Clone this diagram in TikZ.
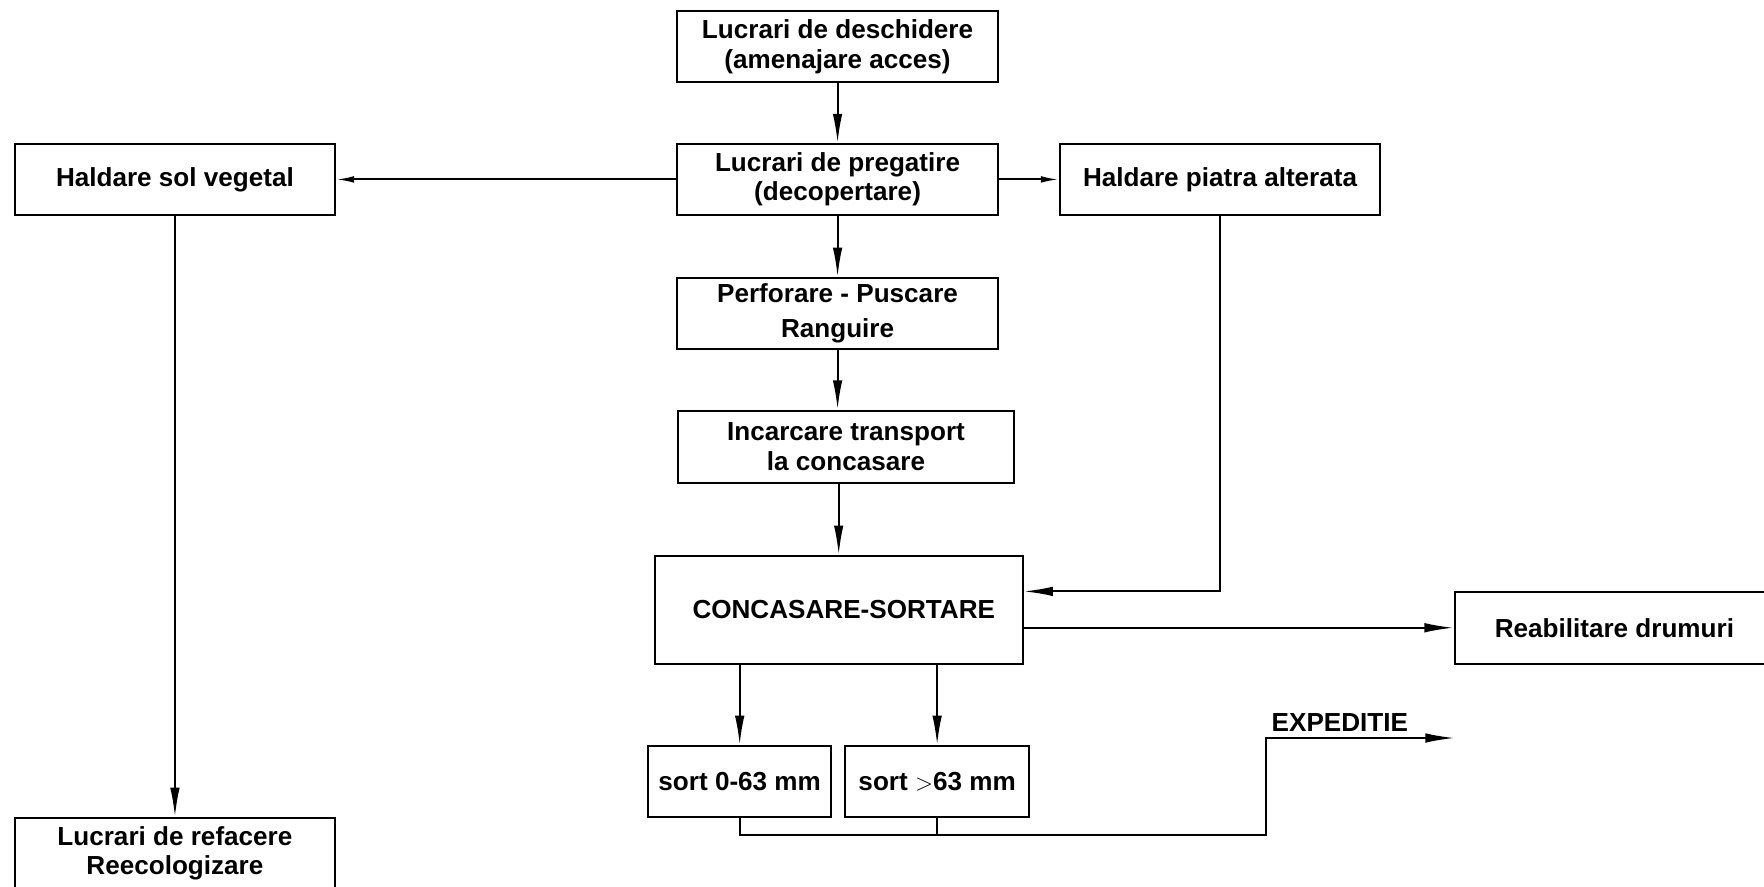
\documentclass[tikz,border=0pt]{standalone}
\usepackage{fontspec}
\setmainfont{Liberation Sans}
\usetikzlibrary{arrows.meta, positioning, calc}

\begin{document}
\begin{tikzpicture}[
    box/.style={draw, line width=1pt, minimum width=5.70cm, minimum height=1.26cm,
      inner sep=0pt, align=center, font=\bfseries\fontsize{13.2}{14.8}\selectfont},
    lbl/.style={font=\bfseries\fontsize{13.2}{14.8}\selectfont},
    arr/.style={line width=1pt, -{Latex[length=0.52cm, width=0.17cm]}},
    arrs/.style={line width=1pt, -{Latex[length=0.32cm, width=0.12cm]}},
    ln/.style={line width=1pt}
  ]
  \useasboundingbox (0,0) rectangle (31.36,-15.76);

  % coloana centrala
  \node[box] (desch) at (14.89,-0.83) {Lucrari de deschidere\\(amenajare acces)};
  \node[box] (preg)  at (14.89,-3.19) {Lucrari de pregatire\\(decopertare)};
  \node[box] (perf)  at (14.89,-5.57) {Perforare - Puscare\\[3pt]Ranguire};
  \node[box, minimum width=5.96cm, minimum height=1.28cm] (inc) at (15.04,-7.94)
    {Incarcare transport\\la concasare\hspace{0.2cm}};
  \node[box, minimum width=6.54cm, minimum height=1.92cm] (conc) at (14.91,-10.84)
    {\hspace{0.18cm}CONCASARE-SORTARE};

  % halde
  \node[box] (sol)    at (3.11,-3.19)  {Haldare sol vegetal};
  \node[box] (piatra) at (21.69,-3.19) {Haldare piatra alterata};
  \node[box] (ref)    at (3.11,-15.17) {Lucrari de refacere\\Reecologizare};

  % produse
  \node[box, minimum width=5.68cm, minimum height=1.28cm] (reab) at (28.70,-11.16)
    {Reabilitare drumuri};
  \node[box, minimum width=3.26cm] (sort1) at (13.15,-13.89) {sort 0-63 mm};
  \node[box, minimum width=3.28cm] (sort2) at (16.66,-13.89) {sort $>$63 mm};

  % legaturi
  \draw[arr]  (desch) -- (preg);
  \draw[arrs] (preg) -- (sol);
  \draw[arrs] (preg) -- (piatra);
  \draw[arr]  (preg) -- (perf);
  \draw[arr]  (perf.south) -- (perf.south |- inc.north);
  \draw[arr]  (inc.south -| conc.north) -- (conc.north);
  \draw[arr]  (piatra.south) |- ($(conc.north east)!0.333!(conc.south east)$);
  \draw[arr]  (conc.east |- reab.west) -- (reab.west);
  \draw[arr]  (sol) -- (ref);
  \draw[arr]  (sort1.north |- conc.south) -- (sort1.north);
  \draw[arr]  (sort2.north |- conc.south) -- (sort2.north);

  % expeditie
  \coordinate (bend) at (22.50,-14.84);
  \coordinate (expend) at (25.86,-13.12);
  \draw[arr] (sort1.south) |- (bend) |- (expend);
  \draw[ln]  (sort2.south) -- (sort2.south |- bend);
  \node[lbl] (exped) at (23.82,-12.85) {EXPEDITIE};
\end{tikzpicture}
\end{document}
